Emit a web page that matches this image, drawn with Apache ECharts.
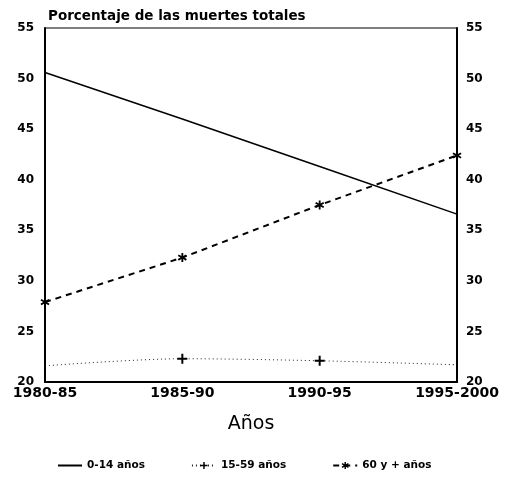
<!DOCTYPE html>
<html>
<head>
<meta charset="utf-8">
<script src="https://cdn.jsdelivr.net/npm/echarts@6/dist/echarts.min.js"></script>
<style>
  html, body { margin: 0; padding: 0; background: #fff; }
  #chart { width: 506px; height: 478px; }
</style>
</head>
<body>
<div id="chart"></div>
<script>
  // periodos
  const periodos = ['1980-85', '1985-90', '1990-95', '1995-2000'];
  // porcentaje de las muertes totales por grupo de edad
  const edad0a14 = [50.6, 46.0, 41.3, 36.6];
  const edad15a59 = [21.6, 22.3, 22.1, 21.7];
  const edad60mas = [27.9, 32.3, 37.5, 42.4];
  const ticksY = [20, 55, 5];

  const font = 'DejaVu Sans';
  const plusPath = 'path://M4,0H6V4H10V6H6V10H4V6H0V4H4Z';
  const starPath = 'path://M4,0h2v3.3l2.9-1.7l1,1.7L7,5l2.9,1.7l-1,1.7L6,6.7V10H4V6.7L1.1,8.4l-1-1.7L3,5L0.1,3.3l1-1.7L4,3.3z';

  const chart = echarts.init(document.getElementById('chart'));

  const yAxisBase = {
    type: 'value',
    min: ticksY[0],
    max: ticksY[1],
    interval: ticksY[2],
    splitLine: { show: false },
    axisTick: { show: false },
    axisLine: { show: true, lineStyle: { color: '#000', width: 2 } },
    axisLabel: { color: '#000', fontFamily: font, fontWeight: 'bold', fontSize: 12 }
  };

  chart.setOption({
    animation: false,
    title: {
      text: 'Porcentaje de las muertes totales',
      left: 43,
      top: 4,
      textStyle: { fontFamily: font, fontWeight: 'bold', fontSize: 13.5, color: '#000' }
    },
    grid: {
      left: 45,
      right: 49,
      top: 28,
      bottom: 96,
      show: true,
      borderColor: '#000',
      borderWidth: 1
    },
    legend: {
      bottom: 2,
      left: 52,
      itemWidth: 24,
      itemHeight: 9,
      itemGap: 46,
      textStyle: { fontFamily: font, fontWeight: 'bold', fontSize: 10.5, color: '#000' },
      data: [
        { name: '0-14 años', itemStyle: { opacity: 0 } },
        '15-59 años',
        '60 y + años'
      ]
    },
    xAxis: {
      type: 'category',
      data: periodos,
      boundaryGap: false,
      name: 'Años',
      nameLocation: 'middle',
      nameGap: 33,
      nameTextStyle: { fontFamily: font, fontSize: 19, color: '#000' },
      axisTick: { show: false },
      axisLine: { lineStyle: { color: '#000', width: 2 } },
      axisLabel: {
        interval: 0,
        margin: 4,
        color: '#000',
        fontFamily: font,
        fontWeight: 'bold',
        fontSize: 14
      }
    },
    yAxis: [
      Object.assign({}, yAxisBase, { position: 'left', axisLabel: Object.assign({}, yAxisBase.axisLabel, { margin: 11 }) }),
      Object.assign({}, yAxisBase, { position: 'right', axisLabel: Object.assign({}, yAxisBase.axisLabel, { margin: 9 }) })
    ],
    series: [
      {
        name: '0-14 años',
        type: 'line',
        data: edad0a14,
        symbol: 'none',
        lineStyle: { color: '#000', width: 1.5 },
        itemStyle: { color: '#000' }
      },
      {
        name: '15-59 años',
        type: 'line',
        data: edad15a59,
        smooth: 0.3,
        symbol: plusPath,
        symbolSize: (v, p) => (p.dataIndex === 0 || p.dataIndex === 3 ? 0 : 10),
        lineStyle: { color: '#222', width: 1, type: [1, 3] },
        itemStyle: { color: '#000' }
      },
      {
        name: '60 y + años',
        type: 'line',
        data: edad60mas,
        symbol: starPath,
        symbolSize: 9,
        lineStyle: { color: '#000', width: 2, type: [6, 5] },
        itemStyle: { color: '#000' }
      }
    ]
  });
</script>
</body>
</html>
